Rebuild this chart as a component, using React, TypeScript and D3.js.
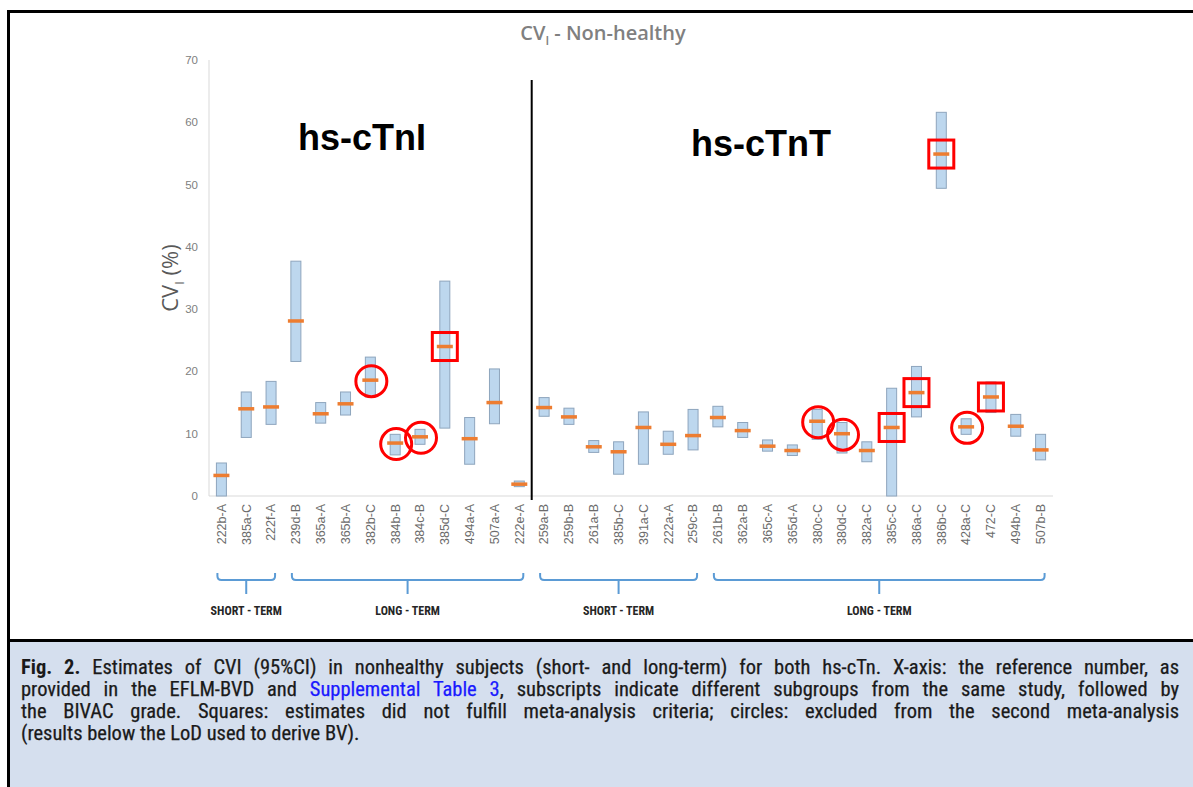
import React, { useLayoutEffect, useRef } from "react";
import * as d3 from "d3";

// ---------- data ----------
const categories = [
  "222b-A", "385a-C", "222f-A", "239d-B", "365a-A", "365b-A", "382b-C", "384b-B", "384c-B", "385d-C",
  "494a-A", "507a-A", "222e-A",
  "259a-B", "259b-B", "261a-B", "385b-C", "391a-C", "222a-A", "259c-B",
  "261b-B", "362a-B", "365c-A", "365d-A", "380c-C", "380d-C", "382a-C", "385c-C", "386a-C", "386b-C",
  "428a-C", "472-C", "494b-A", "507b-B",
];
const lowCI = [
  0, 9.4, 11.5, 21.6, 11.7, 13.0, 15.9, 6.6, 8.3, 10.9, 5.1, 11.6, 1.5,
  12.8, 11.5, 7.0, 3.5, 5.1, 6.7, 7.4,
  11.1, 9.4, 7.2, 6.5, 9.1, 6.9, 5.5, 0, 12.7, 49.4, 9.9, 13.4, 9.6, 5.8,
];
const estimate = [
  3.3, 14.0, 14.3, 28.1, 13.2, 14.8, 18.6, 8.5, 9.5, 24.0, 9.2, 15.0, 1.9,
  14.2, 12.7, 7.9, 7.1, 11.0, 8.3, 9.7,
  12.6, 10.5, 8.0, 7.3, 12.0, 10.0, 7.3, 11.0, 16.6, 54.9, 11.1, 15.9, 11.2, 7.4,
];
const highCI = [
  5.3, 16.7, 18.4, 37.7, 15.0, 16.7, 22.3, 9.9, 10.7, 34.5, 12.6, 20.4, 2.4,
  15.8, 14.1, 8.9, 8.7, 13.5, 10.4, 13.9,
  14.4, 11.8, 9.0, 8.2, 13.9, 11.8, 8.7, 17.3, 20.8, 61.6, 12.4, 18.3, 13.1, 9.9,
];
const squared = ["385d-C", "385c-C", "386a-C", "386b-C", "472-C"];
const circled = ["382b-C", "384b-B", "384c-B", "380c-C", "380d-C", "428a-C"];
const yTicks = [0, 10, 20, 30, 40, 50, 60, 70];
const bracketLabels = ["SHORT - TERM", "LONG - TERM", "SHORT - TERM", "LONG - TERM"];
const bracketFirst = ["222b-A", "239d-B", "259a-B", "261b-B"];
const bracketLast = ["222f-A", "222e-A", "259c-B", "507b-B"];
const analyteLabels = ["hs-cTnI", "hs-cTnT"];
const analyteFirst = ["222b-A", "259a-B"];

const captionLines: { text: string; bold?: boolean; link?: boolean }[][] = [
  [
    { text: "Fig. 2.", bold: true },
    { text: " Estimates of CVI (95%CI) in nonhealthy subjects (short- and long-term) for both hs-cTn. X-axis: the reference number, as" },
  ],
  [
    { text: "provided in the EFLM-BVD and " },
    { text: "Supplemental Table 3", link: true },
    { text: ", subscripts indicate different subgroups from the same study, followed by" },
  ],
  [{ text: "the BIVAC grade. Squares: estimates did not fulfill meta-analysis criteria; circles: excluded from the second meta-analysis" }],
  [{ text: "(results below the LoD used to derive BV)." }],
];
const captionJustify = [true, true, true, false];

// ---------- layout ----------
const W = 1193;
const H = 787;
const plot = { left: 209, right: 1053, top: 60, bottom: 496 };

export default function App() {
  const x = d3.scaleBand<string>().domain(categories).range([plot.left, plot.right]).padding(0);
  const y = d3.scaleLinear().domain([0, 70]).range([plot.bottom, plot.top]);
  const step = x.step();
  const cx = (c: string) => (x(c) as number) + step / 2;
  const barW = 10;
  const sepX = x(analyteFirst[1]) as number;

  const capRefs = useRef<(SVGTextElement | null)[]>([]);
  useLayoutEffect(() => {
    const justify = () => {
      capRefs.current.forEach((el, i) => {
        if (!el) return;
        el.removeAttribute("textLength");
        el.removeAttribute("lengthAdjust");
        el.setAttribute("word-spacing", "0");
        if (!captionJustify[i]) return;
        const w = el.getComputedTextLength();
        const text = el.textContent || "";
        const spaces = (text.match(/ /g) || []).length;
        const target = 1158;
        if (w < target) el.setAttribute("word-spacing", String((target - w) / spaces));
        else {
          el.setAttribute("textLength", String(target));
          el.setAttribute("lengthAdjust", "spacingAndGlyphs");
        }
      });
    };
    justify();
    if ((document as any).fonts?.ready) (document as any).fonts.ready.then(justify);
  }, []);

  const chartFont = "'Liberation Sans', Arial, sans-serif";
  const capFont = "'Roboto Condensed', 'Liberation Sans Narrow', 'DejaVu Sans Condensed', 'Liberation Sans', sans-serif";

  const bracketPath = (x0: number, x1: number) => {
    const yTop = 573;
    const yH = 580;
    const r = 4;
    return `M${x0},${yTop} L${x0},${yH - r} Q${x0},${yH} ${x0 + r},${yH} L${x1 - r},${yH} Q${x1},${yH} ${x1},${yH - r} L${x1},${yTop}`;
  };

  return (
    <svg width={W} height={H} style={{ position: "absolute", left: 0, top: 0, background: "#fff" }}>
      {/* frame */}
      <rect x={7} y={10} width={W - 7} height={3} fill="#000" />
      <rect x={7} y={10} width={3} height={H - 10} fill="#000" />
      <rect x={10} y={642} width={W - 10} height={H - 642} fill="#d5dfee" />
      <rect x={7} y={639} width={W - 7} height={3} fill="#000" />

      {/* title */}
      <text x={603} y={40} textAnchor="middle" fontFamily="'Open Sans', sans-serif" fontWeight={600} fontSize={20} fill="#808080">
        CV<tspan fontSize={12} dy={5}>I</tspan>
        <tspan dy={-5}> - Non-healthy</tspan>
      </text>

      {/* axes */}
      <line x1={plot.left} x2={plot.left} y1={plot.top} y2={plot.bottom} stroke="#d9d9d9" />
      <line x1={plot.left} x2={plot.right} y1={plot.bottom} y2={plot.bottom} stroke="#d9d9d9" />
      {yTicks.map((t) => (
        <text key={t} x={198} y={y(t)} dy="0.35em" textAnchor="end" fontFamily={chartFont} fontSize={11.5} fill="#808080">
          {t}
        </text>
      ))}
      <text
        transform={`translate(178,${(plot.top + plot.bottom) / 2}) rotate(-90)`}
        textAnchor="middle"
        fontFamily="'Open Sans', sans-serif"
        fontSize={22}
        fill="#595959"
      >
        CV<tspan fontSize={13} dy={6}>I</tspan>
        <tspan dy={-6}> (%)</tspan>
      </text>
      {categories.map((c) => (
        <text
          key={c}
          transform={`translate(${cx(c)},${plot.bottom + 8}) rotate(-90)`}
          dy="0.35em"
          textAnchor="end"
          fontFamily={chartFont}
          fontSize={12.5}
          fill="#6b6b6b"
        >
          {c}
        </text>
      ))}

      {/* separator */}
      <line x1={sepX} x2={sepX} y1={y(66.8)} y2={plot.bottom + 4} stroke="#000" strokeWidth={2} />

      {/* analyte labels */}
      <text x={362} y={150} textAnchor="middle" fontFamily={chartFont} fontWeight={700} fontSize={36} fill="#000">
        {analyteLabels[0]}
      </text>
      <text x={761} y={156} textAnchor="middle" fontFamily={chartFont} fontWeight={700} fontSize={36} fill="#000">
        {analyteLabels[1]}
      </text>

      {/* CI bars */}
      {categories.map((c, i) => (
        <rect
          key={c}
          x={cx(c) - barW / 2}
          y={y(highCI[i])}
          width={barW}
          height={y(lowCI[i]) - y(highCI[i])}
          fill="#bdd7ee"
          stroke="#8ea5bd"
          strokeWidth={1}
        />
      ))}
      {/* estimates */}
      {categories.map((c, i) => (
        <rect key={c} x={cx(c) - 8} y={y(estimate[i]) - 1.75} width={16} height={3.5} fill="#ed7d31" />
      ))}

      {/* annotations */}
      {categories.map((c, i) =>
        squared.includes(c) ? (
          <rect key={c} x={cx(c) - 12.5} y={y(estimate[i]) - 14} width={25} height={28} fill="none" stroke="#ff0000" strokeWidth={3} />
        ) : null
      )}
      {categories.map((c, i) =>
        circled.includes(c) ? (
          <circle key={c} cx={cx(c) + 1} cy={y(estimate[i]) + 1} r={15.5} fill="none" stroke="#ff0000" strokeWidth={3} />
        ) : null
      )}

      {/* brackets */}
      {bracketLabels.map((lab, i) => {
        const x0 = cx(bracketFirst[i]) - 4;
        const x1 = cx(bracketLast[i]) + 4;
        const mid = (x0 + x1) / 2;
        return (
          <g key={i}>
            <path d={bracketPath(x0, x1)} fill="none" stroke="#5b9bd5" strokeWidth={2} />
            <line x1={mid} x2={mid} y1={580} y2={594} stroke="#5b9bd5" strokeWidth={2} />
            <text x={mid} y={615} textAnchor="middle" fontFamily={capFont} fontWeight={700} fontSize={12} fill="#262626">
              {lab}
            </text>
          </g>
        );
      })}

      {/* caption */}
      {captionLines.map((line, li) => (
        <text
          key={li}
          ref={(el) => {
            capRefs.current[li] = el;
          }}
          x={21}
          y={674 + li * 22}
          fontFamily={capFont}
          fontSize={20.5}
          fill="#1a1a1a"
          xmlSpace="preserve"
        >
          {line.map((seg, si) => (
            <tspan
              key={si}
              fontWeight={seg.bold ? 700 : 400}
              fill={seg.link ? "#1a1aff" : "#1a1a1a"}
              stroke={seg.bold ? "none" : seg.link ? "#1a1aff" : "#1a1a1a"}
              strokeWidth={0.25}
            >
              {seg.text}
            </tspan>
          ))}
        </text>
      ))}
    </svg>
  );
}
